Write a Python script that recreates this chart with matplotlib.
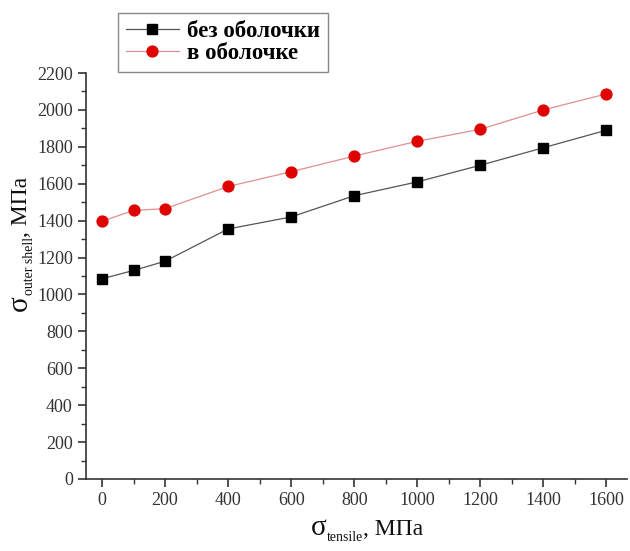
import matplotlib
matplotlib.use("Agg")
import matplotlib.pyplot as plt
from matplotlib.ticker import MultipleLocator
from matplotlib.transforms import IdentityTransform

x_vals = [0, 100, 200, 400, 600, 800, 1000, 1200, 1400, 1600]
no_shell = [1085, 1130, 1180, 1355, 1420, 1535, 1610, 1700, 1795, 1890]
in_shell = [1397, 1455, 1465, 1585, 1665, 1750, 1830, 1895, 2000, 2087]
labels = ["без оболочки", "в оболочке"]
xlabel_parts = ["σ", "tensile", ", МПа"]
ylabel_parts = ["σ", "outer shell", ", МПа"]

plt.rcParams['font.family'] = ['Liberation Serif', 'DejaVu Serif']

fig = plt.figure(figsize=(6.3, 5.51), dpi=100)
ax = fig.add_axes([0.1365, 0.1307, 0.8585, 0.7368])

ax.plot(x_vals, no_shell, color='#555555', lw=0.9, marker='s', ms=6.5,
        mfc='black', mec='black', label=labels[0])
ax.plot(x_vals, in_shell, color='#e09090', lw=0.9, marker='o', ms=7.8,
        mfc='#e00000', mec='#e00000', label=labels[1])

ax.set_xlim(-51, 1665)
ax.set_ylim(0, 2200)
ax.xaxis.set_major_locator(MultipleLocator(200))
ax.xaxis.set_minor_locator(MultipleLocator(100))
ax.yaxis.set_major_locator(MultipleLocator(200))
ax.yaxis.set_minor_locator(MultipleLocator(100))
for s in ['top', 'right']:
    ax.spines[s].set_visible(False)
for s in ['left', 'bottom']:
    ax.spines[s].set_color('#333333')
    ax.spines[s].set_linewidth(1.2)
ax.tick_params(which='major', direction='out', length=6, width=1.2, colors='#333333',
               labelsize=13, labelcolor='#333333')
ax.tick_params(which='minor', direction='out', length=3.5, width=1.0, colors='#333333')

leg = ax.legend(loc='upper left', bbox_to_anchor=(0.059, 1.148), fancybox=False,
                edgecolor='#888888', framealpha=1, borderaxespad=0,
                prop={'family': 'Liberation Serif', 'weight': 'bold', 'size': 16.5},
                handlelength=2.3, borderpad=0.35, labelspacing=0.05, handletextpad=0.35)
leg.get_frame().set_linewidth(1.0)

renderer = fig.canvas.get_renderer()
sizes = [21, 10, 17]
drop = 6


def compound_label(x0, y0, parts, vertical):
    rot = 90 if vertical else 0
    pos = 0.0
    for i, txt in enumerate(parts):
        off = drop if i == 1 else 0
        if vertical:
            x, y = x0 + off, y0 + pos
        else:
            x, y = x0 + pos, y0 - off
        t = fig.text(x, y, txt, fontsize=sizes[i], rotation=rot, rotation_mode='anchor',
                     ha='left', va='baseline', transform=IdentityTransform(),
                     color='#111111')
        bb = t.get_window_extent(renderer)
        pos += bb.height if vertical else bb.width


compound_label(311, 16, xlabel_parts, vertical=False)
compound_label(27, 240, ylabel_parts, vertical=True)

fig.savefig('out.png', dpi=100)
